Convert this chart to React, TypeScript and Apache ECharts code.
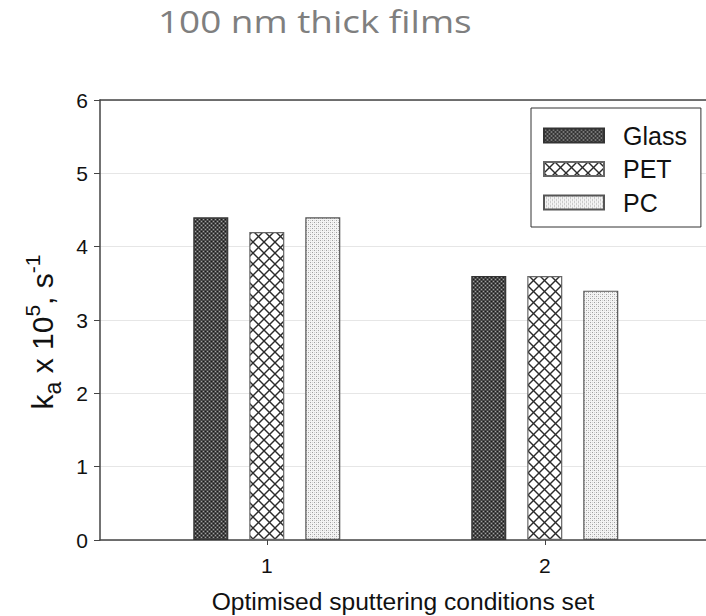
import React, { useEffect, useRef } from "react";
import * as echarts from "echarts";

// Sputtering condition sets (x positions) and rate constants per substrate
const conditionSets = [1, 2];
const glassValues = [4.4, 3.6];
const petValues = [4.2, 3.6];
const pcValues = [4.4, 3.4];
const seriesNames = ["Glass", "PET", "PC"];
const yTickMax = 6;

const svgUrl = (w: number, h: number, body: string) =>
  "data:image/svg+xml;charset=utf-8," +
  encodeURIComponent(
    `<svg xmlns="http://www.w3.org/2000/svg" width="${w}" height="${h}" shape-rendering="crispEdges">${body}</svg>`
  );

// Dark dotted fill
const glassFill = {
  image: svgUrl(
    4,
    4,
    '<rect width="4" height="4" fill="#4a4a4a"/>' +
      '<rect x="1" y="1" width="1" height="1" fill="#a0a0a0"/>' +
      '<rect x="3" y="3" width="1" height="1" fill="#a0a0a0"/>' +
      '<rect x="1" y="3" width="1" height="1" fill="#1a1a1a"/>' +
      '<rect x="3" y="1" width="1" height="1" fill="#1a1a1a"/>'
  ),
  imageWidth: 4,
  imageHeight: 4,
  repeat: "repeat",
};

// Diagonal cross-hatch fill
const petFill = {
  image: svgUrl(
    11,
    11,
    '<rect width="11" height="11" fill="#ffffff"/>' +
      '<g shape-rendering="auto" stroke="#2a2a2a" stroke-width="1.4">' +
      '<line x1="-1" y1="-1" x2="12" y2="12"/>' +
      '<line x1="12" y1="-1" x2="-1" y2="12"/>' +
      "</g>"
  ),
  imageWidth: 11,
  imageHeight: 11,
  repeat: "repeat",
};

// Light stipple fill
const pcFill = {
  image: svgUrl(
    4,
    4,
    '<rect width="4" height="4" fill="#f4f4f4"/>' +
      '<rect x="0" y="0" width="1" height="1" fill="#a0a0a0"/>' +
      '<rect x="2" y="2" width="1" height="1" fill="#a0a0a0"/>' +
      '<rect x="2" y="0" width="1" height="1" fill="#d6d6d6"/>' +
      '<rect x="0" y="2" width="1" height="1" fill="#d6d6d6"/>'
  ),
  imageWidth: 4,
  imageHeight: 4,
  repeat: "repeat",
};

const FONT = "'Liberation Sans', Arial, sans-serif";

export default function App() {
  const ref = useRef<HTMLDivElement>(null);

  useEffect(() => {
    if (!ref.current) return;
    const chart = echarts.init(ref.current, null, { renderer: "svg" });

    const makeBar = (name: string, values: number[], fill: any, border: string) => ({
      name,
      type: "bar",
      xAxisIndex: 0,
      yAxisIndex: 0,
      data: conditionSets.map((c, i) => [c, values[i]]),
      barWidth: 35,
      barGap: "60%",
      itemStyle: { color: fill, borderColor: border, borderWidth: 1.2 },
      emphasis: { disabled: true },
    });

    chart.setOption({
      animation: false,
      backgroundColor: "#ffffff",
      graphic: [
        {
          type: "text",
          x: 158,
          y: 6,
          scaleX: 1.19,
          style: {
            text: "100 nm thick films",
            fontFamily: "'Open Sans', 'Noto Sans', sans-serif",
            fontSize: 31,
            fill: "#7f7f7f",
            verticalAlign: "top",
          },
        },
      ],
      legend: {
        orient: "vertical",
        left: 531,
        top: 108,
        data: seriesNames,
        icon: "rect",
        itemWidth: 60,
        itemHeight: 14,
        itemGap: 8.5,
        padding: [15, 14, 12, 12],
        borderColor: "#333333",
        borderWidth: 1,
        backgroundColor: "#ffffff",
        textStyle: {
          fontFamily: FONT,
          fontSize: 25,
          lineHeight: 25,
          color: "#111111",
          padding: [0, 0, 0, 14],
        },
      },
      grid: { left: 100, right: 0, top: 100, bottom: 76, outerBoundsMode: "none" },
      xAxis: [
        {
          type: "value",
          min: 0.4,
          max: 2.58,
          position: "bottom",
          name: "Optimised sputtering conditions set",
          nameLocation: "middle",
          nameGap: 49,
          nameTextStyle: { fontFamily: FONT, fontSize: 24.6, color: "#111111" },
          splitLine: { show: false },
          axisLine: { lineStyle: { color: "#444444", width: 1.5 } },
          axisTick: { customValues: conditionSets, length: 5, lineStyle: { color: "#444444" } },
          axisLabel: {
            customValues: conditionSets,
            margin: 15,
            fontFamily: FONT,
            fontSize: 21,
            color: "#111111",
          },
        },
        {
          type: "value",
          min: 0.4,
          max: 2.58,
          position: "top",
          splitLine: { show: false },
          axisLine: { lineStyle: { color: "#444444", width: 1.5 } },
          axisTick: { show: false },
          axisLabel: { show: false },
        },
      ],
      yAxis: {
        type: "value",
        min: 0,
        max: yTickMax,
        interval: 1,
        name: "{t|k}{sub|a}{t| x 10}{sup|5}{t|, s}{sup|-1}",
        nameLocation: "middle",
        nameGap: 43,
        nameRotate: 90,
        nameTextStyle: {
          fontFamily: FONT,
          fontSize: 30,
          color: "#111111",
          padding: [0, 24, 0, 0],
          rich: {
            t: { fontFamily: FONT, fontSize: 30, color: "#111111", verticalAlign: "bottom", lineHeight: 38 },
            sub: { fontFamily: FONT, fontSize: 23, color: "#111111", verticalAlign: "bottom", lineHeight: 38, padding: [0, 0, -7, 0] },
            sup: { fontFamily: FONT, fontSize: 21, color: "#111111", verticalAlign: "bottom", lineHeight: 38, padding: [0, 0, 14, 0] },
          },
        },
        axisLine: { show: true, lineStyle: { color: "#444444", width: 1.5 } },
        axisTick: { show: true, length: 6, lineStyle: { color: "#444444" } },
        axisLabel: { margin: 12, fontFamily: FONT, fontSize: 21, color: "#111111" },
        splitLine: { lineStyle: { color: "#e6e6e6", width: 1 } },
      },
      series: [
        makeBar(seriesNames[0], glassValues, glassFill, "#333333"),
        makeBar(seriesNames[1], petValues, petFill, "#666666"),
        makeBar(seriesNames[2], pcValues, pcFill, "#555555"),
      ],
    });

    return () => chart.dispose();
  }, []);

  return (
    <div
      ref={ref}
      style={{ position: "absolute", left: 0, top: 0, width: 706, height: 616 }}
    />
  );
}
